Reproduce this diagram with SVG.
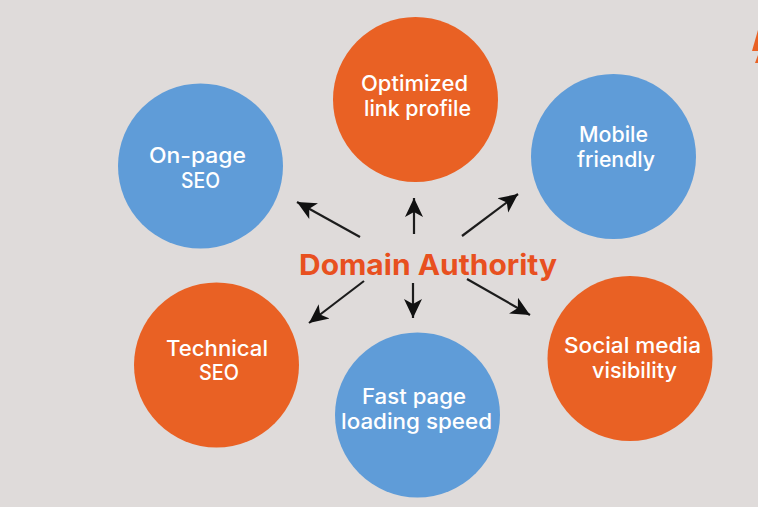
<svg xmlns="http://www.w3.org/2000/svg" width="758" height="507" viewBox="0 0 758 507">
<style>
.o{fill:#e96124}.b{fill:#5f9cd8}
.t{font-family:Inter,"Open Sans","Liberation Sans",sans-serif;font-size:21px;font-weight:500;fill:#fff;text-anchor:middle}
.h{font-family:Inter,"Open Sans","Liberation Sans",sans-serif;font-size:29px;font-weight:700;fill:#e8501f;text-anchor:middle}
.c line{stroke:#1c1c1c;stroke-width:2.2;marker-end:url(#a)}
</style>
<defs><marker id="a" markerUnits="userSpaceOnUse" markerWidth="22" markerHeight="20" refX="19" refY="10" orient="auto"><path d="M0 1 L19 10 L0 19 L5 10Z" fill="#111"/></marker></defs>
<rect width="758" height="507" fill="#dfdbda"/>
<g id="corner-mark"><polygon points="758,30 758,51 752,51" class="o"/><polygon points="758,55 758,63 755,63" class="o"/></g>
<g class="c" id="connectors">
<line x1="360" y1="237" x2="297" y2="202"/>
<line x1="414" y1="234" x2="414" y2="198"/>
<line x1="462" y1="236" x2="518" y2="194"/>
<line x1="364" y1="281" x2="309" y2="323"/>
<line x1="413" y1="283" x2="413" y2="318"/>
<line x1="467" y1="279" x2="530" y2="315"/>
</g>
<g id="n-link"><circle cx="415.500" cy="99.500" r="82.500" class="o"/><text class="t" x="414.500" y="91" textLength="107" lengthAdjust="spacingAndGlyphs">Optimized</text><text class="t" x="417.500" y="116" textLength="107" lengthAdjust="spacingAndGlyphs">link profile</text></g>
<g id="n-onpage"><circle cx="200.500" cy="166" r="82.500" class="b"/><text class="t" x="197.500" y="163" textLength="97" lengthAdjust="spacingAndGlyphs">On-page</text><text class="t" x="200.500" y="188" textLength="39" lengthAdjust="spacingAndGlyphs">SEO</text></g>
<g id="n-mobile"><circle cx="613.500" cy="156.500" r="82.500" class="b"/><text class="t" x="613.500" y="142" textLength="69" lengthAdjust="spacingAndGlyphs">Mobile</text><text class="t" x="616" y="167" textLength="78" lengthAdjust="spacingAndGlyphs">friendly</text></g>
<g id="n-tech"><circle cx="216.500" cy="365" r="82.500" class="o"/><text class="t" x="217" y="356" textLength="102" lengthAdjust="spacingAndGlyphs">Technical</text><text class="t" x="219" y="380" textLength="40" lengthAdjust="spacingAndGlyphs">SEO</text></g>
<g id="n-fast"><circle cx="417.500" cy="415" r="82.500" class="b"/><text class="t" x="414" y="404" textLength="104" lengthAdjust="spacingAndGlyphs">Fast page</text><text class="t" x="416.500" y="429" textLength="151" lengthAdjust="spacingAndGlyphs">loading speed</text></g>
<g id="n-social"><circle cx="630" cy="358.500" r="82.500" class="o"/><text class="t" x="632.500" y="353" textLength="137" lengthAdjust="spacingAndGlyphs">Social media</text><text class="t" x="634.500" y="378" textLength="85" lengthAdjust="spacingAndGlyphs">visibility</text></g>
<g id="center"><text class="h" x="428" y="275" textLength="258" lengthAdjust="spacingAndGlyphs">Domain Authority</text></g>
</svg>
